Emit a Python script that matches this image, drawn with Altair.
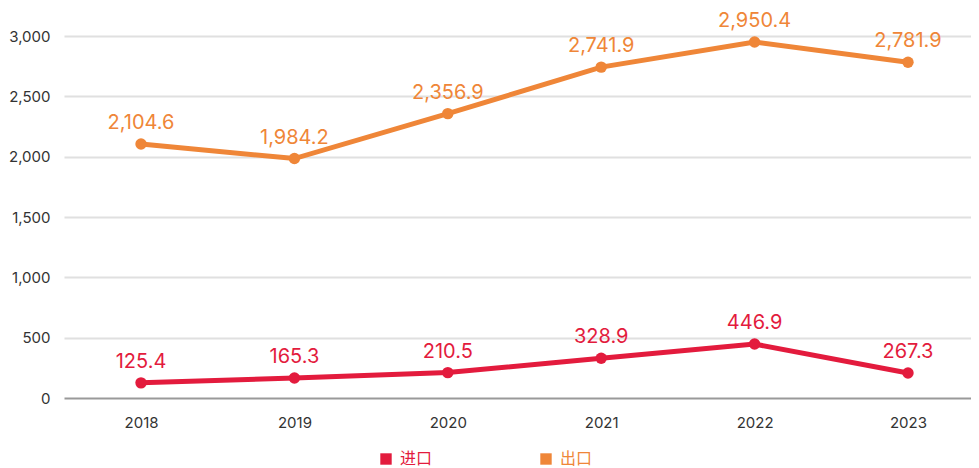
import altair as alt
import pandas as pd

years = ["2018", "2019", "2020", "2021", "2022", "2023"]
series = ["进口", "出口"]
import_values = [125.4, 165.3, 210.5, 328.9, 446.9, 207.0]
import_labels = ["125.4", "165.3", "210.5", "328.9", "446.9", "267.3"]
export_values = [2104.6, 1984.2, 2356.9, 2741.9, 2950.4, 2781.9]
export_labels = ["2,104.6", "1,984.2", "2,356.9", "2,741.9", "2,950.4", "2,781.9"]
y_ticks = [0, 500, 1000, 1500, 2000, 2500, 3000]
colors = ["#E31B3D", "#EF8638"]

rows = []
for y, v, l in zip(years, import_values, import_labels):
    rows.append({"year": y, "series": series[0], "value": v, "label": l})
for y, v, l in zip(years, export_values, export_labels):
    rows.append({"year": y, "series": series[1], "value": v, "label": l})
df = pd.DataFrame(rows)

FONT = "Inter"

x = alt.X("year:N", scale=alt.Scale(type="point", padding=0.4565, align=0.55), sort=years,
          axis=alt.Axis(title=None, labelAngle=0, domain=False, ticks=False,
                        labelFontSize=15, labelColor="#333333", labelFont=FONT,
                        labelPadding=17))
y = alt.Y("value:Q", scale=alt.Scale(domain=[0, 3000], nice=False),
          axis=alt.Axis(title=None, values=y_ticks, format=",d", domain=False, ticks=False,
                        labelFontSize=15, labelColor="#333333", labelFont=FONT,
                        labelPadding=14,
                        gridColor=alt.condition("datum.value == 0", alt.value("#999999"), alt.value("#e0e0e0")),
                        gridWidth=2))
color = alt.Color("series:N", scale=alt.Scale(domain=series, range=colors),
                  legend=alt.Legend(title=None, orient="none", direction="horizontal",
                                    legendX=314, legendY=415, symbolType="square",
                                    symbolSize=130, symbolStrokeWidth=0,
                                    labelFontSize=16, labelFont="Noto Sans CJK SC",
                                    columnPadding=105, symbolOffset=0, labelOffset=6,
                                    labelColor={"expr": "datum.label === '进口' ? '#E31B3D' : '#EF8638'"}))

base = alt.Chart(df).encode(x=x, y=y, color=color)

line = base.mark_line(strokeWidth=5)
pts = base.mark_point(filled=True, size=130, opacity=1)
txt = base.mark_text(dy=-21, fontSize=20, font=FONT).encode(text="label:N")

chart = alt.layer(line, pts, txt).properties(
    width=907, height=362,
    autosize=alt.AutoSizeParams(type="none"),
    padding={"left": 56, "top": 28, "right": 0, "bottom": 70},
).configure_view(stroke=None)

chart.save("out.html", embed_options={"renderer": "svg", "actions": False})
